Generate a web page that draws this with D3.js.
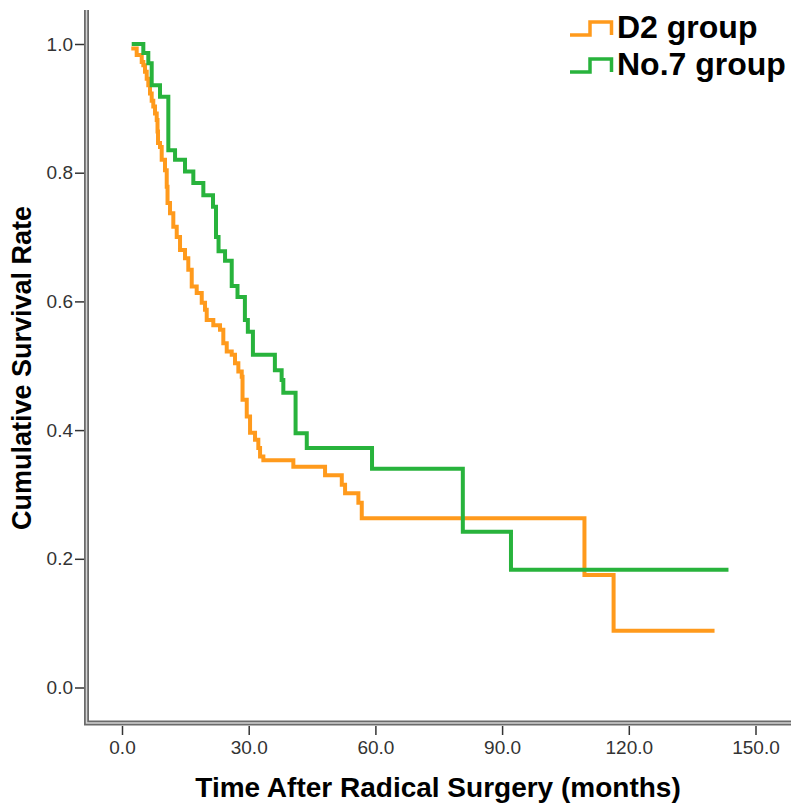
<!DOCTYPE html>
<html>
<head>
<meta charset="utf-8">
<script src="https://d3js.org/d3.v7.min.js"></script>
<style>
  body { margin: 0; background: #fff; }
  text { font-family: "Liberation Sans", Arial, sans-serif; }
</style>
</head>
<body>
<div id="graph"></div>
<script>
// step points: [time (months), cumulative survival after the drop]
const d2Time = [2.2, 3.48, 4.67, 5.05, 5.45, 5.85, 6.23, 6.63, 7.03, 7.41, 7.82, 8.22, 8.41, 8.53,
  9.0, 9.4, 10.18, 10.59, 10.78, 11.37, 12.15, 12.96, 13.74, 14.92, 15.7, 16.51, 17.69, 18.88,
  19.66, 20.06, 21.62, 23.21, 23.99, 24.8, 25.98, 26.76, 27.55, 28.35, 28.54, 29.54, 30.32,
  31.5, 32.28, 32.69, 33.47, 40.57, 48.08, 52.04, 52.82, 55.97, 56.77, 109.5, 116.4, 140.3];
const d2Surv = [0.993, 0.983, 0.972, 0.967, 0.957, 0.946, 0.936, 0.923, 0.912, 0.903, 0.892, 0.882, 0.864, 0.846,
  0.84, 0.82, 0.804, 0.778, 0.753, 0.737, 0.716, 0.7, 0.68, 0.667, 0.649, 0.623, 0.613, 0.598,
  0.587, 0.571, 0.563, 0.556, 0.535, 0.522, 0.517, 0.504, 0.491, 0.483, 0.447, 0.421, 0.396,
  0.385, 0.372, 0.359, 0.353, 0.343, 0.33, 0.315, 0.302, 0.287, 0.263, 0.175, 0.088, 0.088];

const no7Time = [2.3, 5.05, 6.23, 7.03, 9.0, 10.97, 12.56, 14.92, 16.89, 19.26, 21.55, 22.26,
  22.86, 24.4, 25.98, 27.35, 29.1, 29.8, 31.0, 36.2, 37.8, 38.2, 41.1, 43.75, 59.2, 80.7, 92.1, 143.6];
const no7Surv = [1.0, 0.986, 0.97, 0.936, 0.918, 0.835, 0.82, 0.802, 0.784, 0.765, 0.747, 0.7,
  0.678, 0.663, 0.624, 0.607, 0.571, 0.553, 0.517, 0.493, 0.478, 0.458, 0.395, 0.372, 0.34, 0.242, 0.183, 0.183];

const groups = ["D2 group", "No.7 group"];
const colors = ["#ff9a1c", "#28b33c"];
const xTicks = [0, 30, 60, 90, 120, 150];
const yTicks = [0, 0.2, 0.4, 0.6, 0.8, 1.0];

const width = 791, height = 807;

const svg = d3.select("#graph")
  .append("svg")
    .attr("width", width)
    .attr("height", height);

const x = d3.scaleLinear().domain([0, 150]).range([122, 755.5]);
const y = d3.scaleLinear().domain([0, 1]).range([687.5, 44]);

// axis frame (double grey line like SPSS)
const frame = [[86.5, 10], [86.5, 723], [791, 723]];
svg.append("path")
  .attr("d", d3.line()(frame))
  .attr("fill", "none").attr("stroke", "#6a6a6a").attr("stroke-width", 5);
svg.append("path")
  .attr("d", d3.line()(frame))
  .attr("fill", "none").attr("stroke", "#d4d4d4").attr("stroke-width", 1.5);

// x axis
const xAxis = svg.append("g")
  .attr("transform", "translate(0,726)")
  .call(d3.axisBottom(x).tickValues(xTicks).tickFormat(d3.format(".1f")).tickSize(9).tickPadding(6));
xAxis.select(".domain").remove();
xAxis.selectAll(".tick line").attr("stroke", "#333").attr("stroke-width", 1.5);
xAxis.selectAll(".tick text")
  .attr("fill", "#333").style("font-size", "19px");

// y axis
const yAxis = svg.append("g")
  .attr("transform", "translate(84,0)")
  .call(d3.axisLeft(y).tickValues(yTicks).tickFormat(d3.format(".1f")).tickSize(9).tickPadding(2));
yAxis.select(".domain").remove();
yAxis.selectAll(".tick line").attr("stroke", "#333").attr("stroke-width", 1.5);
yAxis.selectAll(".tick text")
  .attr("fill", "#333").style("font-size", "19px");

// axis titles
svg.append("text")
  .attr("x", 438).attr("y", 797)
  .attr("text-anchor", "middle")
  .style("font-size", "28px").style("font-weight", "bold")
  .attr("fill", "#000")
  .text("Time After Radical Surgery (months)");

svg.append("text")
  .attr("transform", "translate(31,368) rotate(-90)")
  .attr("text-anchor", "middle")
  .style("font-size", "27px").style("font-weight", "bold")
  .attr("fill", "#000")
  .text("Cumulative Survival Rate");

// survival curves
const series = [
  d2Time.map((t, i) => [t, d2Surv[i]]),
  no7Time.map((t, i) => [t, no7Surv[i]])
];

const line = d3.line()
  .x(d => x(d[0]))
  .y(d => y(d[1]))
  .curve(d3.curveStepAfter);

svg.selectAll("path.km")
  .data(series)
  .enter()
  .append("path")
    .attr("class", "km")
    .attr("fill", "none")
    .attr("stroke", (d, i) => colors[i])
    .attr("stroke-width", 4)
    .attr("d", line);

// legend
const legend = svg.selectAll("g.leg")
  .data(groups)
  .enter()
  .append("g")
    .attr("class", "leg")
    .attr("transform", (d, i) => "translate(570," + (35 + i * 37) + ")");

legend.append("path")
  .attr("d", "M0,0H20V-13H41.5V0")
  .attr("fill", "none")
  .attr("stroke", (d, i) => colors[i])
  .attr("stroke-width", 3.5);

legend.append("text")
  .attr("x", 47).attr("y", 3)
  .style("font-size", "32px").style("font-weight", "bold")
  .attr("fill", "#000")
  .text(d => d);
</script>
</body>
</html>
